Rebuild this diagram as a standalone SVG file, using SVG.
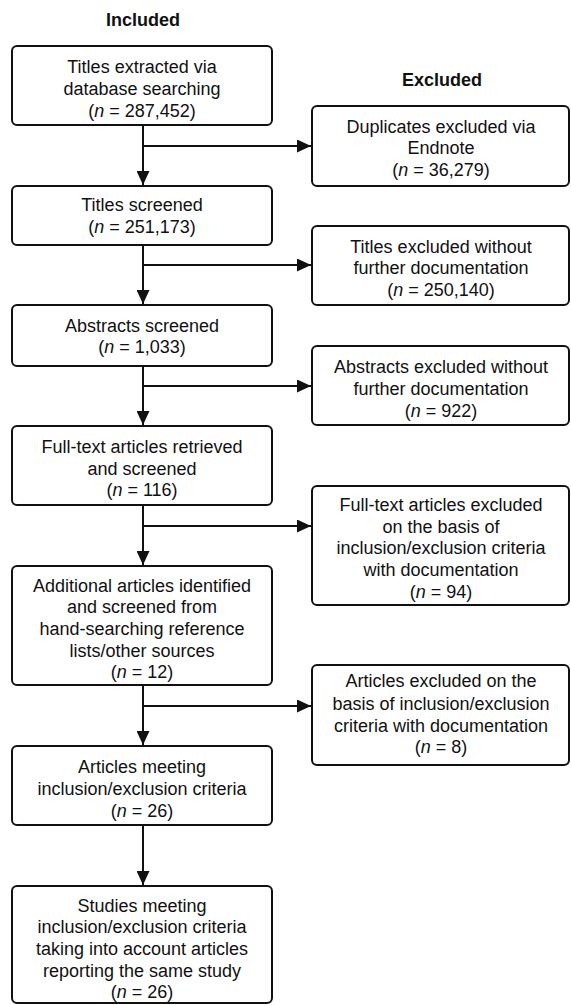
<svg xmlns="http://www.w3.org/2000/svg" width="571" height="1005" viewBox="0 0 571 1005">
<style>
  rect.box { fill: #fff; stroke: #111; stroke-width: 2; }
  text { font-family: "Liberation Sans", Arial, sans-serif; font-size: 18px; fill: #111; text-anchor: middle; }
  text.head { font-weight: bold; }
  .i { font-style: italic; }
  .conn { fill: none; stroke: #111; stroke-width: 2; }
</style>
<defs>
  <marker id="arr" markerUnits="userSpaceOnUse" markerWidth="15" markerHeight="13" refX="14" refY="6.5" orient="auto">
    <path d="M0,0 L14,6.5 L0,13 Z" fill="#111"/>
  </marker>
</defs>
<rect width="571" height="1005" fill="#fff"/>
<text class="head" x="143" y="26">Included</text>
<text class="head" x="442" y="86">Excluded</text>

<g id="connectors">
  <path class="conn" d="M143,125 V185" marker-end="url(#arr)"/>
  <path class="conn" d="M143,245 V304" marker-end="url(#arr)"/>
  <path class="conn" d="M143,366 V425" marker-end="url(#arr)"/>
  <path class="conn" d="M143,505 V565" marker-end="url(#arr)"/>
  <path class="conn" d="M143,685 V745" marker-end="url(#arr)"/>
  <path class="conn" d="M143,825 V885" marker-end="url(#arr)"/>
  <path class="conn" d="M143,146 H311" marker-end="url(#arr)"/>
  <path class="conn" d="M143,265 H311" marker-end="url(#arr)"/>
  <path class="conn" d="M143,386 H311" marker-end="url(#arr)"/>
  <path class="conn" d="M143,526 H311" marker-end="url(#arr)"/>
  <path class="conn" d="M143,706 H311" marker-end="url(#arr)"/>
</g>

<g id="n1">
  <rect class="box" x="12" y="46" width="260" height="79" rx="5"/>
  <text x="142" y="73">Titles extracted via</text>
  <text x="142" y="95">database searching</text>
  <text x="142" y="117">(<tspan class="i">n</tspan> = 287,452)</text>
</g>
<g id="n2">
  <rect class="box" x="12" y="186" width="260" height="59" rx="5"/>
  <text x="142" y="211">Titles screened</text>
  <text x="142" y="233">(<tspan class="i">n</tspan> = 251,173)</text>
</g>
<g id="n3">
  <rect class="box" x="12" y="305" width="260" height="61" rx="5"/>
  <text x="142" y="332">Abstracts screened</text>
  <text x="142" y="353">(<tspan class="i">n</tspan> = 1,033)</text>
</g>
<g id="n4">
  <rect class="box" x="12" y="426" width="260" height="79" rx="5"/>
  <text x="142" y="453">Full-text articles retrieved</text>
  <text x="142" y="475">and screened</text>
  <text x="142" y="496">(<tspan class="i">n</tspan> = 116)</text>
</g>
<g id="n5">
  <rect class="box" x="12" y="566" width="260" height="119" rx="5"/>
  <text x="142" y="592">Additional articles identified</text>
  <text x="142" y="613">and screened from</text>
  <text x="142" y="635">hand-searching reference</text>
  <text x="142" y="657">lists/other sources</text>
  <text x="142" y="678">(<tspan class="i">n</tspan> = 12)</text>
</g>
<g id="n6">
  <rect class="box" x="12" y="746" width="260" height="79" rx="5"/>
  <text x="142" y="773">Articles meeting</text>
  <text x="142" y="795">inclusion/exclusion criteria</text>
  <text x="142" y="817">(<tspan class="i">n</tspan> = 26)</text>
</g>
<g id="n7">
  <rect class="box" x="12" y="886" width="260" height="117" rx="5"/>
  <text x="142" y="912">Studies meeting</text>
  <text x="142" y="933">inclusion/exclusion criteria</text>
  <text x="142" y="955">taking into account articles</text>
  <text x="142" y="977">reporting the same study</text>
  <text x="142" y="998">(<tspan class="i">n</tspan> = 26)</text>
</g>

<g id="e1">
  <rect class="box" x="312" y="106" width="257" height="80" rx="5"/>
  <text x="441" y="133">Duplicates excluded via</text>
  <text x="441" y="154">Endnote</text>
  <text x="441" y="176">(<tspan class="i">n</tspan> = 36,279)</text>
</g>
<g id="e2">
  <rect class="box" x="312" y="226" width="257" height="79" rx="5"/>
  <text x="441" y="253">Titles excluded without</text>
  <text x="441" y="274">further documentation</text>
  <text x="441" y="296">(<tspan class="i">n</tspan> = 250,140)</text>
</g>
<g id="e3">
  <rect class="box" x="312" y="346" width="257" height="79" rx="5"/>
  <text x="441" y="373">Abstracts excluded without</text>
  <text x="441" y="395">further documentation</text>
  <text x="441" y="417">(<tspan class="i">n</tspan> = 922)</text>
</g>
<g id="e4">
  <rect class="box" x="312" y="486" width="257" height="119" rx="5"/>
  <text x="441" y="511">Full-text articles excluded</text>
  <text x="441" y="533">on the basis of</text>
  <text x="441" y="554">inclusion/exclusion criteria</text>
  <text x="441" y="576">with documentation</text>
  <text x="441" y="598">(<tspan class="i">n</tspan> = 94)</text>
</g>
<g id="e5">
  <rect class="box" x="312" y="665" width="257" height="100" rx="5"/>
  <text x="441" y="687">Articles excluded on the</text>
  <text x="441" y="710">basis of inclusion/exclusion</text>
  <text x="441" y="732">criteria with documentation</text>
  <text x="441" y="753">(<tspan class="i">n</tspan> = 8)</text>
</g>
</svg>
